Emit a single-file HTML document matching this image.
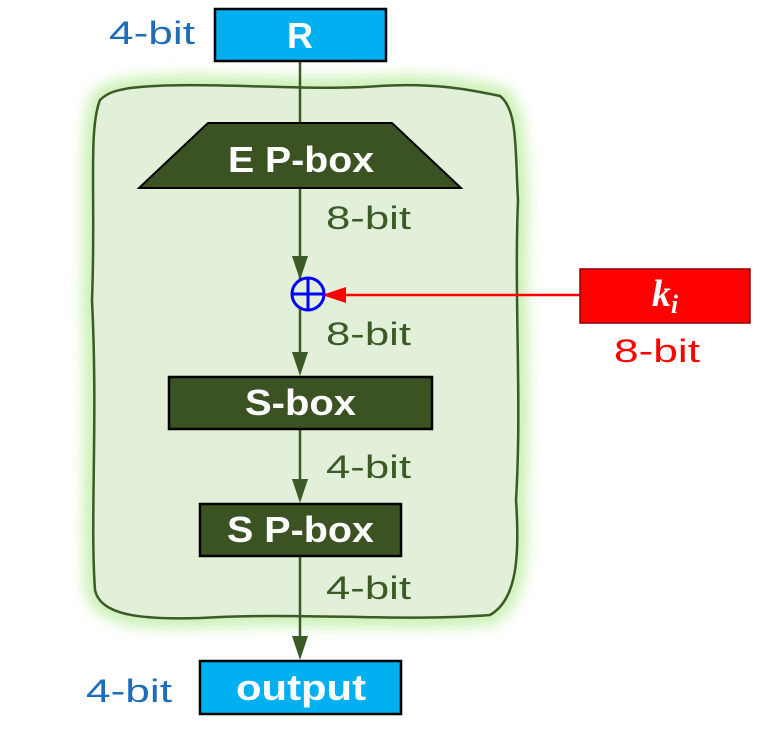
<!DOCTYPE html>
<html><head><meta charset="utf-8"><style>
html,body{margin:0;padding:0;background:#fff;}
svg{display:block;font-family:"Liberation Sans",sans-serif;}
</style></head><body>
<svg width="766" height="732" viewBox="0 0 766 732">
<defs>
<filter id="glow" x="-15%" y="-15%" width="130%" height="130%"><feGaussianBlur stdDeviation="8"/></filter>
</defs>
<g>
<path d="M130,88 C200,80 300,92 380,86 C440,82 480,92 500,96 C518,110 515,150 518,200 C514,300 522,400 516,500 C520,560 516,600 490,615 C400,622 300,612 200,618 C140,620 100,615 95,590 C90,520 98,420 92,300 C96,200 88,130 100,100 C108,92 118,90 130,88 Z" fill="none" stroke="#8fe060" stroke-width="16" opacity="0.6" filter="url(#glow)"/>
<path d="M130,88 C200,80 300,92 380,86 C440,82 480,92 500,96 C518,110 515,150 518,200 C514,300 522,400 516,500 C520,560 516,600 490,615 C400,622 300,612 200,618 C140,620 100,615 95,590 C90,520 98,420 92,300 C96,200 88,130 100,100 C108,92 118,90 130,88 Z" fill="#e2efd9" stroke="#3b5a26" stroke-width="2.5"/>
</g>
<g stroke="#3b5a26" stroke-width="2.5" fill="none">
<line x1="300" y1="61" x2="300" y2="122"/>
<line x1="300" y1="188" x2="300" y2="280"/>
<line x1="300" y1="308" x2="300" y2="370"/>
<line x1="300" y1="429" x2="300" y2="497"/>
<line x1="300" y1="556" x2="300" y2="654"/>
</g>
<g fill="#3b5a26">
<path d="M292,256 L308,256 L300,280 z"/>
<path d="M292,352 L308,352 L300,376 z"/>
<path d="M292,479 L308,479 L300,503 z"/>
<path d="M292,636 L308,636 L300,660 z"/>
</g>
<line x1="580" y1="295" x2="330" y2="295" stroke="#ff0000" stroke-width="2.5"/>
<path d="M322,295 L346,287 L346,303 z" fill="#ff0000"/>
<g stroke="#0000ff" stroke-width="3" fill="none">
<circle cx="308" cy="294" r="16"/><line x1="292" y1="294" x2="324" y2="294"/><line x1="308" y1="278" x2="308" y2="310"/>
</g>
<g>
<rect x="215" y="9" width="171" height="52" fill="#00b0f0" stroke="#000" stroke-width="2.5"/>
<text x="300" y="48" text-anchor="middle" font-size="36" font-weight="bold" fill="#fff">R</text>
</g>
<g>
<path d="M208,123 L392,123 L461,188 L139,188 Z" fill="#3b5323" stroke="#000" stroke-width="2"/>
<text x="228" y="172" textLength="146" lengthAdjust="spacingAndGlyphs" font-size="36" font-weight="bold" fill="#fff">E P-box</text>
</g>
<g>
<rect x="169" y="377" width="263" height="52" fill="#3b5323" stroke="#000" stroke-width="2.5"/>
<text x="245" y="415" textLength="111" lengthAdjust="spacingAndGlyphs" font-size="36" font-weight="bold" fill="#fff">S-box</text>
</g>
<g>
<rect x="200" y="504" width="201" height="52" fill="#3b5323" stroke="#000" stroke-width="2.5"/>
<text x="227" y="542" textLength="147" lengthAdjust="spacingAndGlyphs" font-size="36" font-weight="bold" fill="#fff">S P-box</text>
</g>
<g>
<rect x="200" y="661" width="201" height="53" fill="#00b0f0" stroke="#000" stroke-width="2.5"/>
<text x="236" y="700" textLength="130" lengthAdjust="spacingAndGlyphs" font-size="36" font-weight="bold" fill="#fff">output</text>
</g>
<g>
<rect x="580" y="269" width="170" height="54" fill="#ff0000" stroke="#8b0000" stroke-width="1.5"/>
<text x="665" y="306" text-anchor="middle" font-size="38" font-weight="bold" font-style="italic" fill="#fff" font-family="Liberation Serif,serif">k<tspan font-size="26" dy="7">i</tspan></text>
</g>
<g font-size="32" fill="#3b5a26">
<text x="326" y="229" textLength="85" lengthAdjust="spacingAndGlyphs">8-bit</text>
<text x="326" y="345" textLength="85" lengthAdjust="spacingAndGlyphs">8-bit</text>
<text x="326" y="478" textLength="85" lengthAdjust="spacingAndGlyphs">4-bit</text>
<text x="326" y="599" textLength="85" lengthAdjust="spacingAndGlyphs">4-bit</text>
</g>
<text x="109" y="44" font-size="32" textLength="86" lengthAdjust="spacingAndGlyphs" fill="#1f6cb8">4-bit</text>
<text x="86" y="702" font-size="32" textLength="86" lengthAdjust="spacingAndGlyphs" fill="#1f6cb8">4-bit</text>
<text x="614" y="362" font-size="32" textLength="86" lengthAdjust="spacingAndGlyphs" fill="#ff0000">8-bit</text>
</svg>
</body></html>
